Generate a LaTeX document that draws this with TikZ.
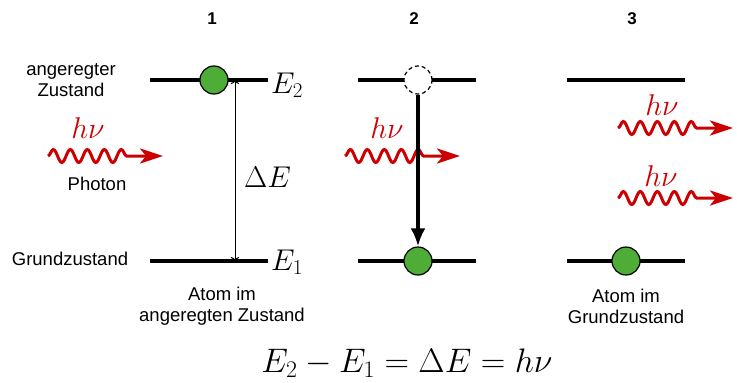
\RequirePackage{fix-cm}
\documentclass[tikz,border=0pt]{standalone}
\usepackage{fontspec}
\setmainfont{Liberation Sans}
\usetikzlibrary{arrows.meta,decorations.pathmorphing}
\definecolor{PhotonRed}{RGB}{204,0,0}
\definecolor{AtomGreen}{RGB}{77,173,55}

\begin{document}
\begin{tikzpicture}[x=1pt,y=-1pt,
   level/.style={line width=3.3pt},
   atom/.style={circle,draw,line width=1.2pt,fill=AtomGreen,minimum size=28pt,inner sep=0pt},
   hole/.style={atom,fill=white,dash pattern=on 4pt off 3pt},
   photon/.style={PhotonRed,line width=3pt,decorate,decoration={snake,amplitude=6.5pt,segment length=17pt,post length=30pt},-{Stealth[length=23pt,width=15pt,inset=6pt]}},
   lbl/.style={font=\fontsize{18.5}{21}\selectfont,align=center,inner sep=0pt},
   nr/.style={font=\fontsize{17}{20}\selectfont\bfseries,inner sep=0pt},
   mlbl/.style={font=\fontsize{30}{36}\selectfont,inner sep=0pt}]
\useasboundingbox (0,0) rectangle (737,383);
% energy levels of the three stages
\foreach \n/\x/\c in {1/150/212,2/358/414,3/567/632} {
   \node[nr] (nr\n) at (\c,19) {\n};
   \coordinate (upL\n) at (\x,80);
   \coordinate (upR\n) at (\x+118,80);
   \coordinate (loL\n) at (\x,261);
   \coordinate (loR\n) at (\x+118,261);
   \draw[level] (upL\n) -- (upR\n);
   \draw[level] (loL\n) -- (loR\n);
}
% photons
\foreach \n/\x/\y in {1/48/156,2/345/156,3/618/128,4/618/198} {
   \coordinate (ps\n) at (\x,\y);
   \coordinate (pe\n) at (\x+115,\y);
   \draw[photon] (ps\n) -- (pe\n);
}
\node[mlbl,text=PhotonRed,anchor=base] (hv1) at (88,138) {$h\nu$};
\node[mlbl,text=PhotonRed,anchor=base] (hv2) at (387,138) {$h\nu$};
\node[mlbl,text=PhotonRed,anchor=base] (hv3) at (662,115) {$h\nu$};
\node[mlbl,text=PhotonRed,anchor=base] (hv4) at (661,186) {$h\nu$};
% atoms
\node[atom] (a1) at (214,80) {};
\node[hole] (h2) at (418,80) {};
\node[atom] (a2) at (418,261) {};
\node[atom] (a3) at (626,261) {};
\coordinate (dEt) at (235,80);
\coordinate (dEb) at (235,261);
\draw[line width=1pt,{To[length=4pt]}-{To[length=4pt]}] (dEt) -- (dEb);
\draw[line width=3.5pt,-{Latex[length=18pt,width=15pt]}] (h2.south) -- (a2.north);
% labels
\node[mlbl,anchor=base west] (E2) at (271,93) {$E_2$};
\node[mlbl,anchor=base west] (E1) at (271,270) {$E_1$};
\node[mlbl,anchor=base west] (dE) at (244,187) {$\Delta E$};
\node[lbl] (exc) at (71,80) {angeregter\\Zustand};
\node[lbl] (gnd) at (70,259) {Grundzustand};
\node[lbl] (pho) at (97,184) {Photon};
\node[lbl] (st1) at (222,306) {Atom im\\angeregten Zustand};
\node[lbl] (st3) at (626,306) {Atom im\\Grundzustand};
\node[font=\fontsize{34}{40}\selectfont,inner sep=0pt,anchor=base] (eq) at (407,372) {$E_2-E_1=\Delta E=h\nu$};
\end{tikzpicture}
\end{document}
